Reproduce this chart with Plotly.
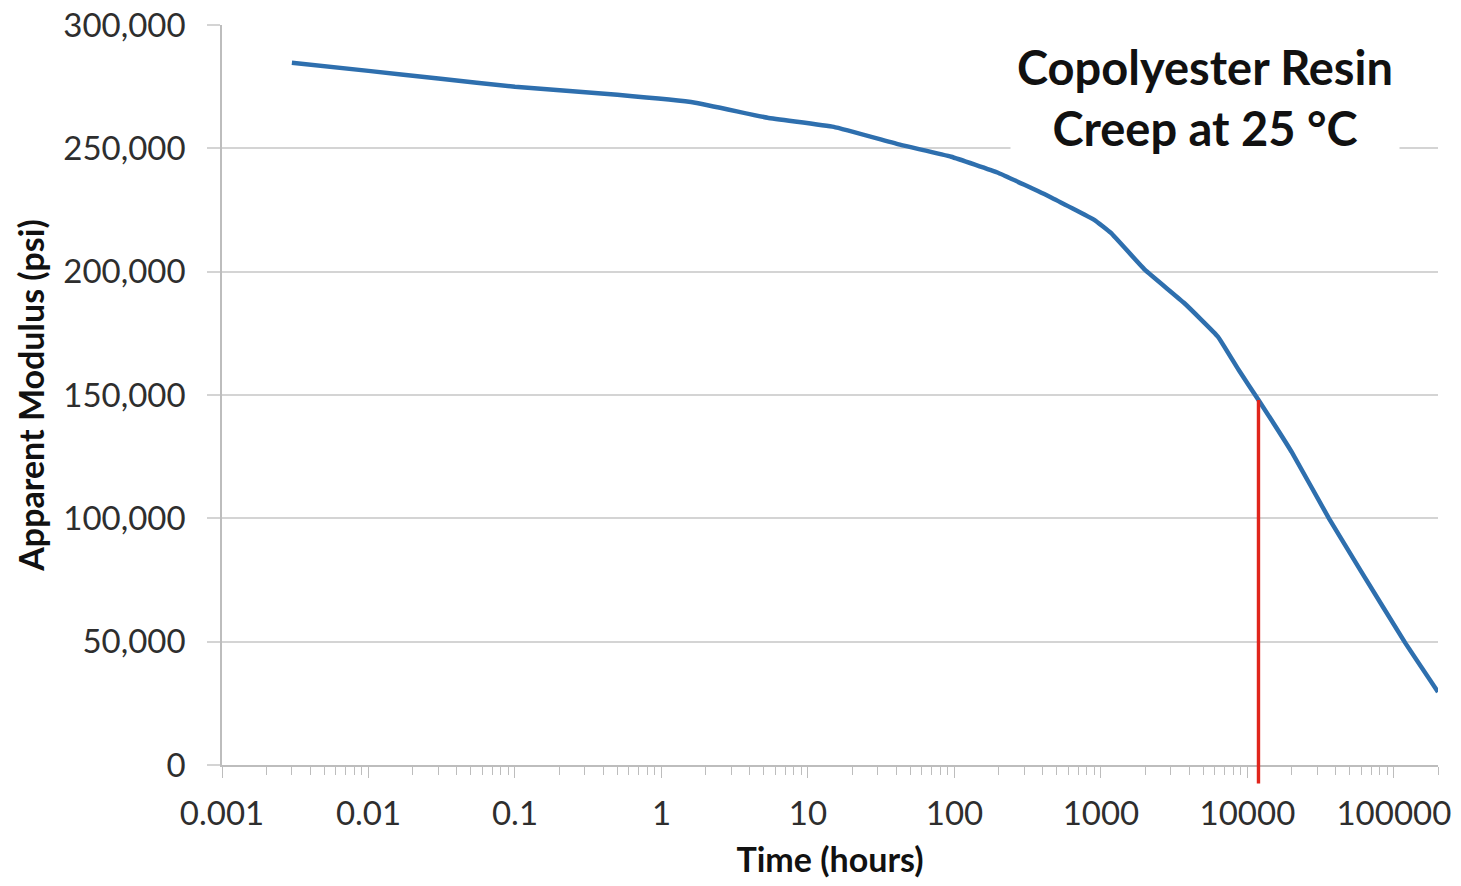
import math
import plotly.graph_objects as go

# ---- data ----
time_hours = [0.003, 0.01, 0.03, 0.1, 0.5, 1.7, 5.3, 15, 43, 95, 200, 450,
              900, 1170, 2000, 3700, 6300, 8700, 11900, 20000, 36000, 60000,
              118000, 200000]
modulus_psi = [284700, 281400, 278300, 275000, 271700, 268500, 262400, 258700,
               251400, 246600, 240000, 230300, 221000, 215700, 200700, 187300,
               173600, 160200, 148000, 127000, 100000, 78300, 50000, 29600]

marker_time = 11900       # red reference line position (hours)
marker_modulus = 148000   # where it meets the curve (psi)

x_tick_vals = [0.001, 0.01, 0.1, 1, 10, 100, 1000, 10000, 100000]
x_tick_text = ["0.001", "0.01", "0.1", "1", "10", "100", "1000", "10000", "100000"]
y_tick_vals = [0, 50000, 100000, 150000, 200000, 250000, 300000]
y_max = 300000
x_min, x_max = 0.001, 200000

title_lines = ["Copolyester Resin", "Creep at 25 °C"]

FONT = "Lato"
GRID = "#d4d4d4"
AXIS = "#bdbdbd"
TICKTXT = "#2e2e2e"

fig = go.Figure()
fig.add_trace(go.Scatter(
    x=time_hours, y=modulus_psi, mode="lines",
    line=dict(color="#2e6fae", width=4.5, shape="spline", smoothing=0.3),
    hoverinfo="x+y", showlegend=False,
))

# red vertical line, extends a bit below the x axis
fig.add_shape(type="line", xref="x", yref="paper",
              x0=marker_time, x1=marker_time,
              y0=-0.025, y1=marker_modulus / y_max,
              line=dict(color="#e0251c", width=3.4), layer="above")

fig.add_annotation(
    xref="paper", yref="paper", x=0.808, y=0.902,
    xanchor="center", yanchor="middle",
    text="<b>" + "<br>".join(title_lines) + "</b>",
    showarrow=False, align="center",
    font=dict(family=FONT, size=47, color="#111111"),
    bgcolor="white", borderpad=6,
)

fig.update_layout(
    width=1461, height=886,
    margin=dict(l=222, r=23, t=25, b=121, autoexpand=False),
    paper_bgcolor="white", plot_bgcolor="white",
    font=dict(family=FONT, color=TICKTXT),
    xaxis=dict(
        type="log", range=[math.log10(x_min), math.log10(x_max)],
        tickmode="array", tickvals=x_tick_vals, ticktext=x_tick_text,
        ticks="outside", ticklen=11, tickcolor=AXIS, tickwidth=1.3,
        showline=True, linecolor=AXIS, linewidth=1.5,
        showgrid=False, zeroline=False,
        tickfont=dict(family=FONT, size=33, color=TICKTXT),
        ticklabelstandoff=8,
        minor=dict(ticks="outside", ticklen=8, tickcolor=AXIS, tickwidth=1.3,
                   dtick="D1", showgrid=False),
        title=dict(text="<b>Time (hours)</b>", standoff=17,
                   font=dict(family=FONT, size=34, color="#111111")),
    ),
    yaxis=dict(
        range=[0, y_max], tickmode="array", tickvals=y_tick_vals,
        tickformat=",", ticks="outside", ticklen=13, tickcolor=GRID, tickwidth=1.5,
        showline=True, linecolor=AXIS, linewidth=1.5,
        showgrid=True, gridcolor=GRID, gridwidth=1.5, zeroline=False,
        tickfont=dict(family=FONT, size=33, color=TICKTXT),
        ticklabelstandoff=15,
        title=dict(text="<b>Apparent Modulus (psi)</b>", standoff=8,
                   font=dict(family=FONT, size=34, color="#111111")),
    ),
)

fig.write_html("out.html")
